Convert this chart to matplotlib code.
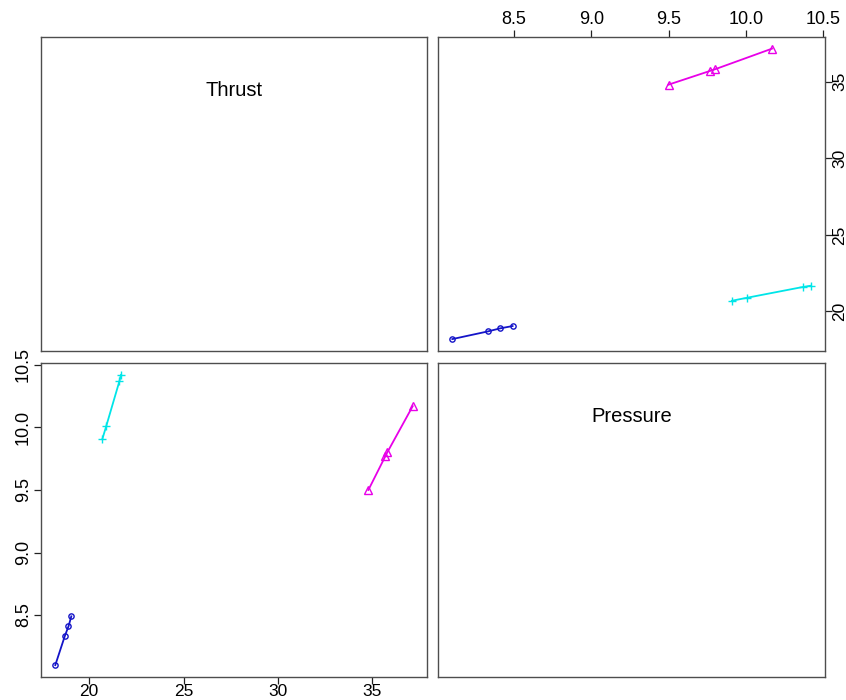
import numpy as np
import matplotlib
matplotlib.use("Agg")
import matplotlib.pyplot as plt

plt.rcParams["font.family"] = ["Liberation Sans", "DejaVu Sans"]

# Two variables, three groups of four observations each
var_names = ["Thrust", "Pressure"]
thrust_blue = [18.2, 18.7, 18.9, 19.05]
thrust_cyan = [20.7, 20.9, 21.6, 21.68]
thrust_magenta = [34.8, 35.7, 35.8, 37.15]
pressure_blue = [8.10, 8.33, 8.41, 8.49]
pressure_cyan = [9.91, 10.01, 10.37, 10.42]
pressure_magenta = [9.50, 9.77, 9.80, 10.17]

thrust_ticks = [20, 25, 30, 35]
pressure_ticks = [8.5, 9.0, 9.5, 10.0, 10.5]

groups = [
    (thrust_blue, pressure_blue, "#1414c8", "o"),
    (thrust_cyan, pressure_cyan, "#00e5e8", "+"),
    (thrust_magenta, pressure_magenta, "#e800e8", "^"),
]

all_thrust = thrust_blue + thrust_cyan + thrust_magenta
all_pressure = pressure_blue + pressure_cyan + pressure_magenta


def padded(vals, frac=0.04):
    lo, hi = min(vals), max(vals)
    d = (hi - lo) * frac
    return lo - d, hi + d


t_lim = padded(all_thrust)
p_lim = padded(all_pressure)

fig = plt.figure(figsize=(8.46, 7.00), dpi=100)
fig.patch.set_facecolor("white")

col_x = [(41, 427), (438, 825)]
row_y = [(37, 350.7), (363.3, 676.7)]
W, H = 846, 700


def make_ax(r, c):
    x0, x1 = col_x[c]
    y0, y1 = row_y[r]
    return fig.add_axes([x0 / W, 1 - y1 / H, (x1 - x0) / W, (y1 - y0) / H])


axes = [[make_ax(r, c) for c in range(2)] for r in range(2)]

for r in range(2):
    for c in range(2):
        ax = axes[r][c]
        for s in ax.spines.values():
            s.set_color("#4d4d4d")
            s.set_linewidth(1.0)
        ax.set_xticks([])
        ax.set_yticks([])
        ax.set_facecolor("white")

# diagonal panels carry the variable names
axes[0][0].set_xlim(t_lim)
axes[0][0].set_ylim(t_lim)
axes[0][0].text(0.5, 0.83, var_names[0], transform=axes[0][0].transAxes,
                ha="center", va="center", fontsize=14.5)
axes[1][1].set_xlim(p_lim)
axes[1][1].set_ylim(p_lim)
axes[1][1].text(0.5, 0.83, var_names[1], transform=axes[1][1].transAxes,
                ha="center", va="center", fontsize=14.5)


def draw_groups(ax, swap):
    for thr, pre, col, mk in groups:
        xs, ys = (pre, thr) if swap else (thr, pre)
        order = np.argsort(xs)
        xs = np.array(xs)[order]
        ys = np.array(ys)[order]
        ax.plot(xs, ys, color=col, lw=1.3)
        ax.plot(xs, ys, ls="none", marker=mk, ms=6 if mk != "o" else 3.8,
                mfc="none", mec=col, mew=1.0)


# upper right: Pressure on x, Thrust on y
ax = axes[0][1]
draw_groups(ax, swap=True)
ax.set_xlim(p_lim)
ax.set_ylim(t_lim)
ax.xaxis.tick_top()
ax.yaxis.tick_right()
ax.set_xticks(pressure_ticks)
ax.set_xticklabels([f"{v:.1f}" for v in pressure_ticks])
ax.set_yticks(thrust_ticks)
ax.set_yticklabels([str(v) for v in thrust_ticks], rotation=90, va="center")
ax.tick_params(axis="both", length=5, width=0.9, color="#222222",
               labelsize=13, pad=1.5)
ax.tick_params(axis="y", labelsize=12.5, pad=0)

# lower left: Thrust on x, Pressure on y
ax = axes[1][0]
draw_groups(ax, swap=False)
ax.set_xlim(t_lim)
ax.set_ylim(p_lim)
ax.set_xticks(thrust_ticks)
ax.set_xticklabels([str(v) for v in thrust_ticks])
ax.set_yticks(pressure_ticks)
ax.set_yticklabels([f"{v:.1f}" for v in pressure_ticks], rotation=90, va="center")
ax.tick_params(axis="both", length=5, width=0.9, color="#222222",
               labelsize=13, pad=1.5)
ax.tick_params(axis="x", labelsize=12.5, pad=0.5)

fig.savefig("out.png", dpi=100, facecolor="white")
